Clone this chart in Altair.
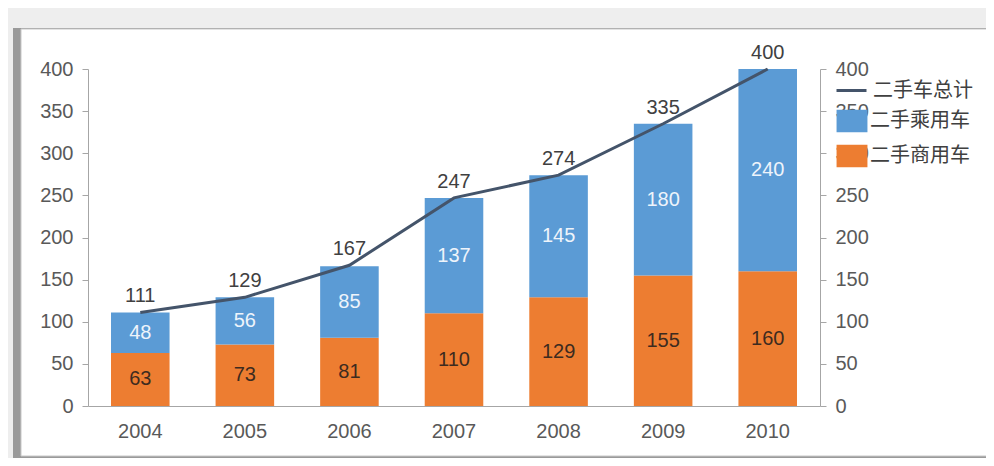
import altair as alt
import pandas as pd

years = ["2004", "2005", "2006", "2007", "2008", "2009", "2010"]
commercial = [63, 73, 81, 110, 129, 155, 160]   # 二手商用车
passenger = [48, 56, 85, 137, 145, 180, 240]    # 二手乘用车
total = [111, 129, 167, 247, 274, 335, 400]     # 二手车总计

S_COM = "二手商用车"
S_PAS = "二手乘用车"
S_TOT = "二手车总计"

rows = []
for y, c, p in zip(years, commercial, passenger):
    rows.append({"year": y, "series": S_COM, "value": c, "order": 0, "mid": c / 2})
    rows.append({"year": y, "series": S_PAS, "value": p, "order": 1, "mid": c + p / 2})
bars_df = pd.DataFrame(rows)
tot_df = pd.DataFrame({"year": years, "total": total, "series": [S_TOT] * len(years)})

W, H = 732, 337
FONT = "Liberation Sans"
CJK = "Noto Sans CJK SC"
AXIS_GRAY = "#a6a6a6"
LABEL_GRAY = "#595959"
FS = 20

xenc = alt.X("year:O", title=None,
             scale=alt.Scale(paddingInner=0.44, paddingOuter=0.22),
             axis=alt.Axis(labelAngle=0, ticks=False, labelPadding=15, domainColor=AXIS_GRAY,
                           labelColor=LABEL_GRAY, labelFontSize=FS, labelFont=FONT, grid=False,
                           zindex=1))

yscale = alt.Scale(domain=[0, 400], nice=False)


def yaxis(orient):
    return alt.Axis(orient=orient, values=list(range(0, 401, 50)), grid=False,
                    domainColor=AXIS_GRAY, tickColor=AXIS_GRAY, tickSize=6,
                    labelPadding=9, labelColor=LABEL_GRAY, labelFontSize=FS,
                    labelFont=FONT, zindex=1, title=None)


left_axis = yaxis("left")
right_axis = yaxis("right")

frame_df = pd.DataFrame({"k": [0]})
shadow = alt.Chart(frame_df).mark_rect(fill="#9a9a9a").encode(
    x=alt.value(-75), x2=alt.value(905), y=alt.value(-41), y2=alt.value(391))
panel = alt.Chart(frame_df).mark_rect(fill="white", stroke="#c8c8c8", strokeWidth=1).encode(
    x=alt.value(-67), x2=alt.value(902), y=alt.value(-40), y2=alt.value(387))

bars = alt.Chart(bars_df).mark_bar().encode(
    x=xenc,
    y=alt.Y("value:Q", stack="zero", scale=yscale, title=None, axis=left_axis),
    color=alt.Color("series:N", title=None,
                    scale=alt.Scale(domain=[S_PAS, S_COM], range=["#5b9bd5", "#ed7d31"]),
                    legend=alt.Legend(orient="none", legendX=749, legendY=37, padding=0,
                                      symbolType="M-1.03,-0.75H1.03V0.75H-1.03Z", symbolSize=900,
                                      symbolOpacity=1, symbolStrokeWidth=0,
                                      labelFont=CJK, labelFontSize=20, labelColor="#404040",
                                      rowPadding=8, labelOffset=3, zindex=3)),
    order=alt.Order("order:Q"),
)

bar_text = alt.Chart(bars_df).mark_text(fontSize=FS, font=FONT).encode(
    x=xenc,
    y=alt.Y("mid:Q", scale=yscale, title=None, axis=left_axis),
    text=alt.Text("value:Q"),
    color=alt.Color("series:N", legend=None,
                    scale=alt.Scale(domain=[S_PAS, S_COM], range=["#eef4fb", "#3d2b1f"])),
)

bar_layer = alt.layer(bars, bar_text).resolve_scale(color="independent")

line = alt.Chart(tot_df).mark_line(strokeWidth=3).encode(
    x=xenc,
    y=alt.Y("total:Q", scale=yscale, title=None, axis=right_axis),
    color=alt.Color("series:N", title=None,
                    scale=alt.Scale(domain=[S_TOT], range=["#44546a"]),
                    legend=alt.Legend(orient="none", legendX=747, legendY=5, padding=0,
                                      symbolSize=900, symbolStrokeWidth=3,
                                      labelFont=CJK, labelFontSize=20, labelColor="#404040",
                                      labelOffset=5, zindex=3)),
)

tot_text = alt.Chart(tot_df).mark_text(fontSize=FS, font=FONT, color="#404040", dy=-16).encode(
    x=xenc,
    y=alt.Y("total:Q", scale=yscale, title=None, axis=right_axis),
    text=alt.Text("total:Q"),
)

line_layer = alt.layer(line, tot_text)

chart = alt.layer(shadow, panel, bar_layer, line_layer).resolve_scale(
    y="independent", color="independent"
).properties(
    width=W, height=H,
    autosize=alt.AutoSizeParams(type="none"),
    padding={"left": 80, "top": 61, "right": 166, "bottom": 52},
    background="#eeeeee",
).configure_view(stroke=None)

chart.save("out.html", embed_options={"renderer": "svg", "actions": False})
